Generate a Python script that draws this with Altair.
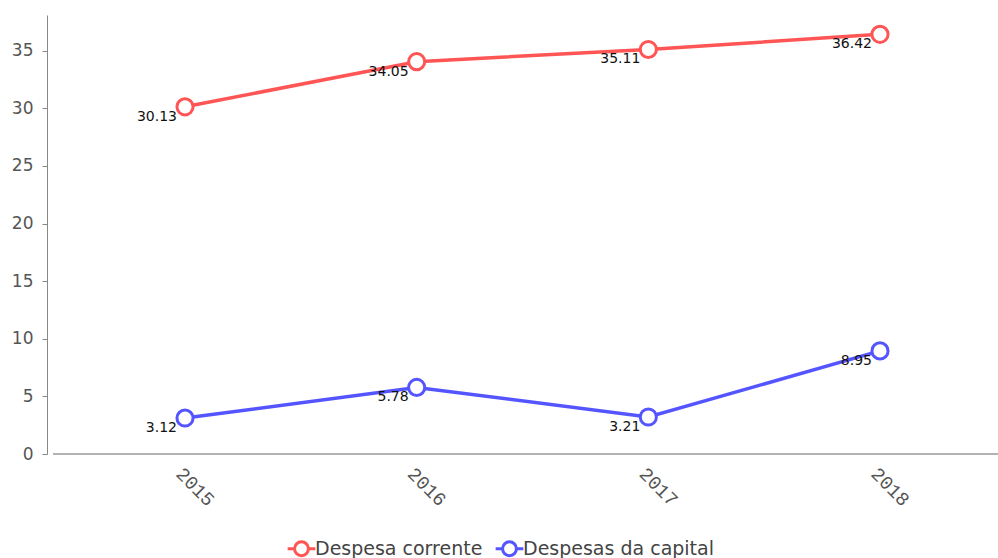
import altair as alt
import pandas as pd

years = ["2015", "2016", "2017", "2018"]
corrente = [30.13, 34.05, 35.11, 36.42]
capital = [3.12, 5.78, 3.21, 8.95]
series_names = ["Despesa corrente", "Despesas da capital"]
series_colors = ["#ff5555", "#5555ff"]

rows = []
for name, vals in zip(series_names, [corrente, capital]):
    for y, v in zip(years, vals):
        rows.append({"ano": y, "valor": v, "serie": name, "rotulo": f"{v:.2f}"})
df = pd.DataFrame(rows)

W, H = 951, 439

x = alt.X(
    "ano:N",
    scale=alt.Scale(type="point", padding=0, range=[138, 833]),
    axis=alt.Axis(
        title=None, domain=False, ticks=False, labelAngle=45,
        labelAlign="left", labelBaseline="top", labelPadding=10,
        labelFont="Liberation Mono", labelFontSize=19, labelColor="#555555",
    ),
)
y = alt.Y(
    "valor:Q",
    scale=alt.Scale(domain=[0, 38.1], nice=False),
    axis=alt.Axis(
        title=None, values=list(range(0, 40, 5)), grid=False,
        domainColor="#888888", tickColor="#888888", tickSize=5,
        labelFont="DejaVu Sans", labelFontSize=17, labelColor="#555555",
        labelPadding=9,
    ),
)
color_scale = alt.Scale(domain=series_names, range=series_colors)

legend_symbol = (
    "M-1.6,0L-0.8,0M0.8,0L1.6,0"
    "M0.8,0A0.8,0.8,0,1,1,-0.8,0A0.8,0.8,0,1,1,0.8,0Z"
)

base = alt.Chart(df)

lines = base.mark_line(strokeWidth=3.5).encode(
    x=x, y=y,
    color=alt.Color(
        "serie:N", scale=color_scale,
        legend=alt.Legend(
            title=None, orient="none", direction="horizontal",
            legendX=244, legendY=523,
            symbolType=legend_symbol, symbolSize=300, symbolStrokeWidth=3,
            symbolFillColor="white", labelFont="DejaVu Sans", labelFontSize=19,
            labelColor="#444444", labelOffset=3, columnPadding=6, labelLimit=400,
        ),
    ),
)

points = base.mark_point(filled=True, fill="white", size=260, strokeWidth=3, opacity=1).encode(
    x=x, y=y,
    stroke=alt.Color("serie:N", scale=color_scale, legend=None),
)

labels = base.mark_text(
    align="right", baseline="middle", dx=-8, dy=10,
    font="DejaVu Sans", fontSize=14, color="#111111",
).encode(x=x, y=y, text="rotulo:N")

x_line = alt.Chart(pd.DataFrame({"a": [0]})).mark_rule(color="#999999", strokeWidth=1.5).encode(
    x=alt.value(6), x2=alt.value(W), y=alt.value(H)
)

chart = (
    alt.layer(x_line, lines, points, labels)
    .properties(
        width=W, height=H,
        autosize=alt.AutoSizeParams(type="none"),
        padding={"left": 47, "top": 15, "right": 0, "bottom": 104},
    )
    .configure_view(stroke=None)
)

chart.save("out.html", embed_options={"renderer": "svg", "actions": False})
